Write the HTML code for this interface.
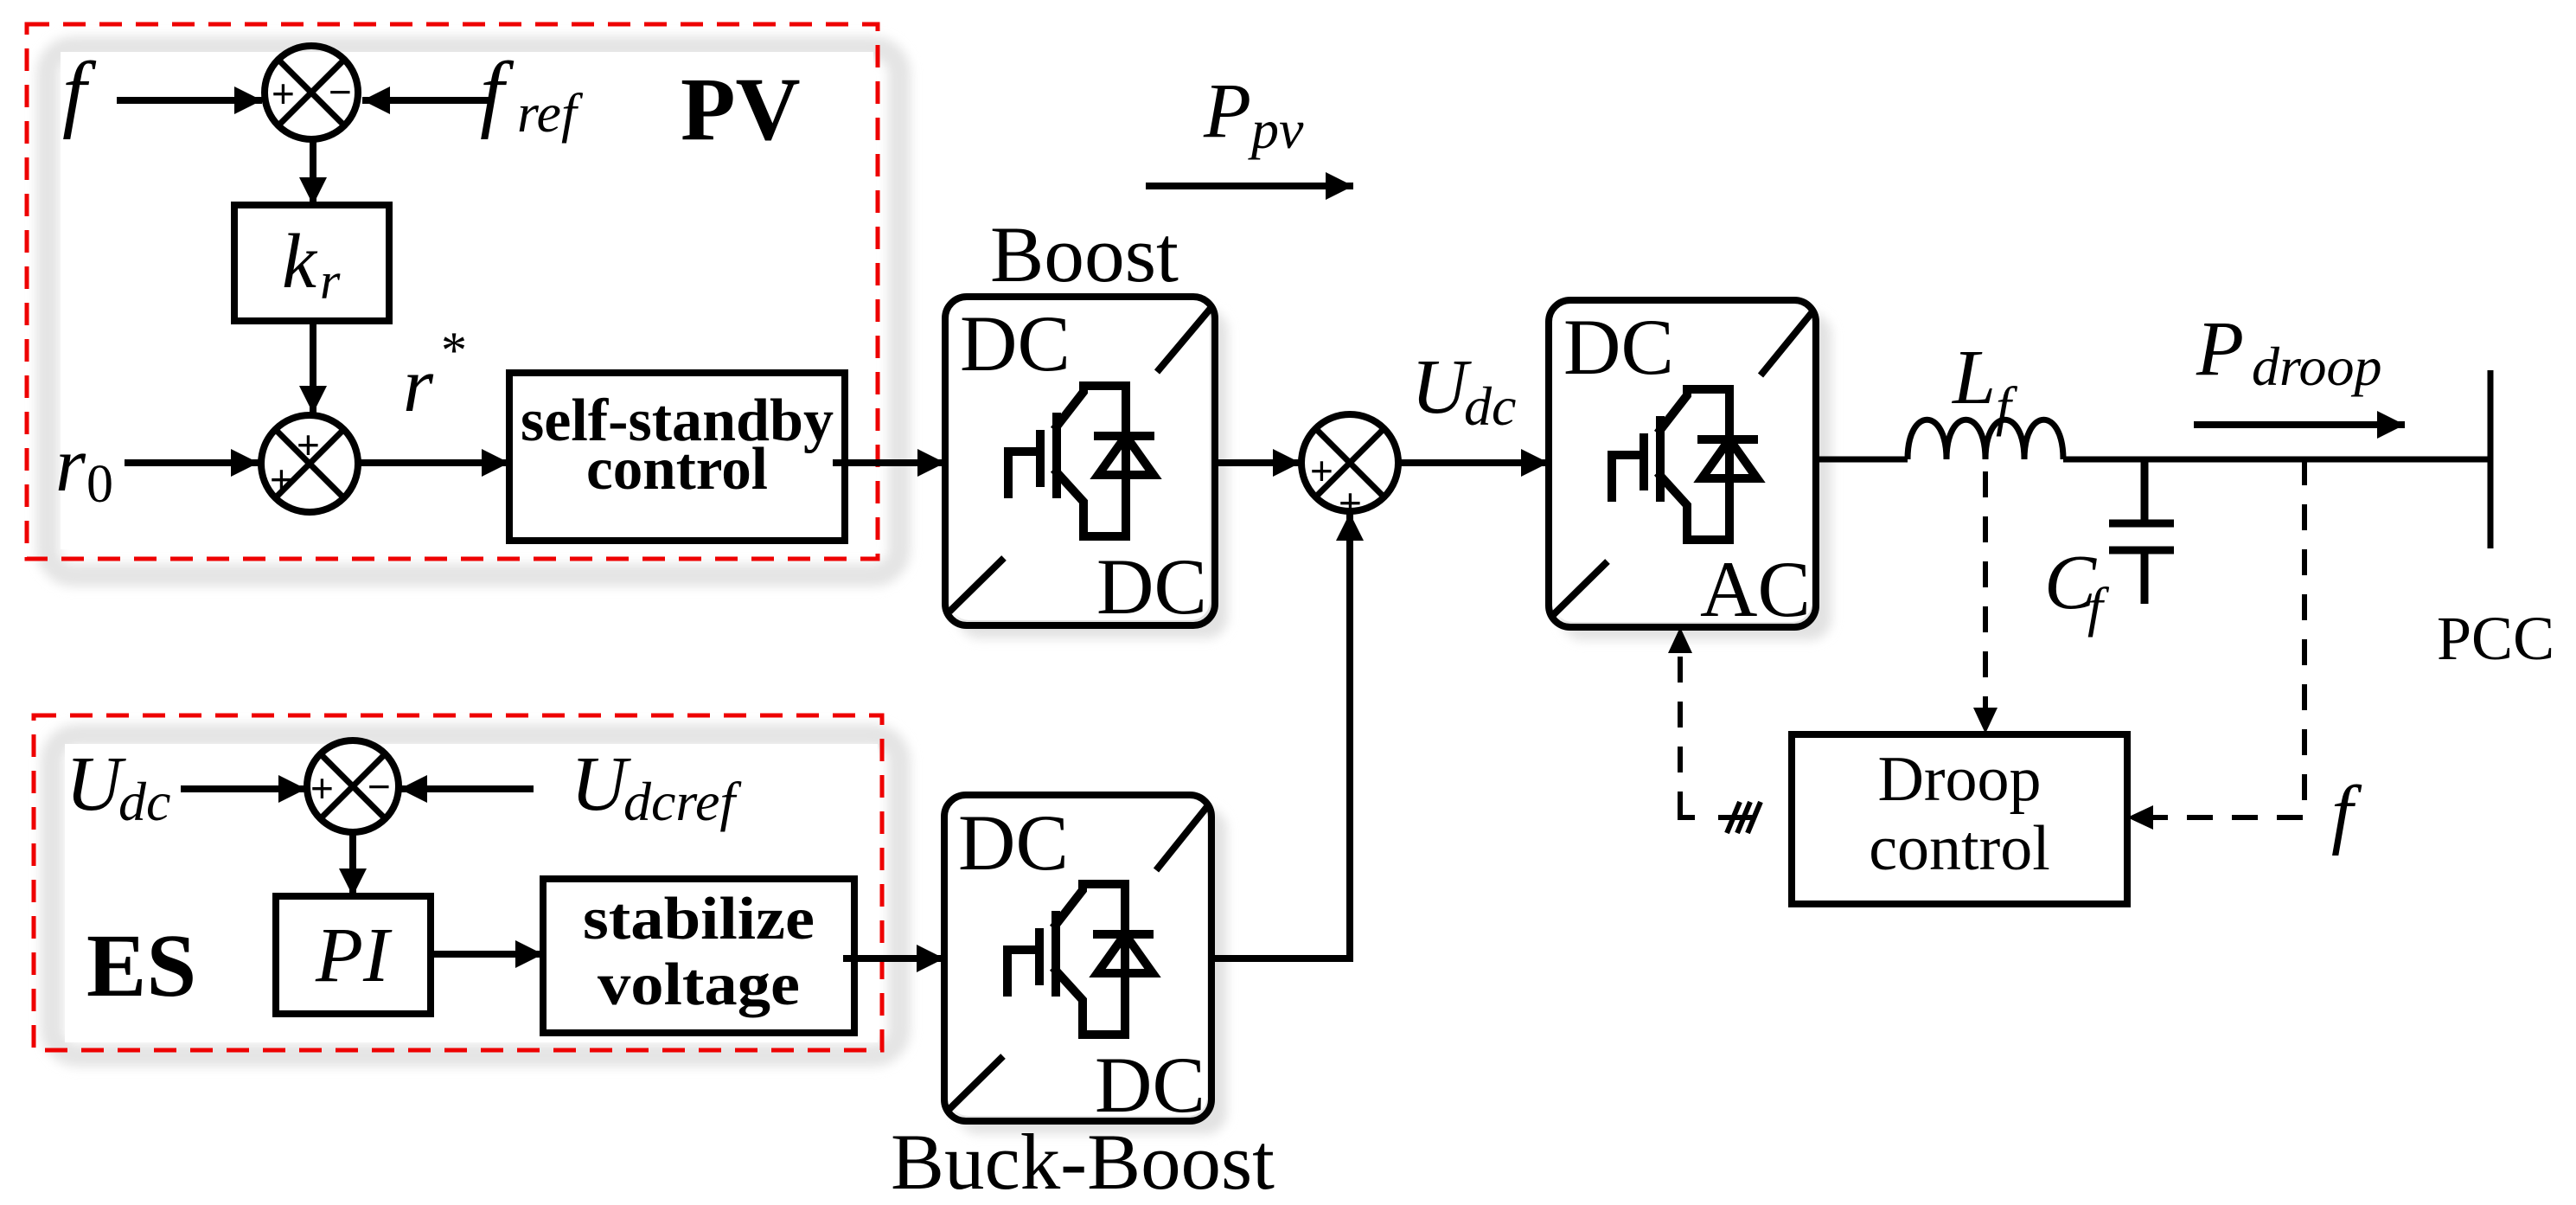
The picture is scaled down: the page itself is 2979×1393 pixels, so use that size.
<!DOCTYPE html>
<html><head><meta charset="utf-8"><style>
html,body{margin:0;padding:0;background:#fff;}
svg{display:block;}
svg text{font-family:"Liberation Serif","Times New Roman",Times,serif;fill:#000;}
svg text.sg{font-family:"Liberation Sans",Arial,sans-serif;}
</style></head><body>
<svg width="2979" height="1393" viewBox="0 0 2979 1393" xmlns="http://www.w3.org/2000/svg" font-family="Liberation Serif, serif">
<defs>
<filter id="blur" x="-20%" y="-20%" width="140%" height="140%"><feGaussianBlur stdDeviation="6"/></filter>
<marker id="ah" markerUnits="userSpaceOnUse" markerWidth="40" markerHeight="40" refX="32" refY="16" orient="auto"><path d="M0,0 L32,16 L0,32 Z" fill="#000"/></marker>
<g id="igbt" fill="none" stroke="#000" stroke-width="10" stroke-linecap="square">
<path d="M73,228 V179 H110"/>
<path d="M110,159 V215"/>
<path d="M129,139 V228"/>
<path d="M129,150 L160,110 V103 H209 V277 H160 V237 L129,203"/>
<path d="M177,161 H237"/>
<path d="M209,161 L177,206 H241 Z"/>
</g>
</defs>

<g filter="url(#blur)" fill="none" stroke="#e4e4e4">
<rect x="55" y="55" width="985" height="610" rx="30" stroke-width="26"/>
<rect x="60" y="850" width="980" height="370" rx="30" stroke-width="26"/>
</g>
<g filter="url(#blur)" fill="#e2e2e2">
<rect x="1108" y="358" width="312" height="380" rx="25"/>
<rect x="1806" y="362" width="312" height="378" rx="25"/>
<rect x="1107" y="934" width="312" height="377" rx="25"/>
</g>
<rect x="1099" y="349" width="300" height="368" rx="22" fill="#fff"/>
<rect x="1797" y="353" width="298" height="366" rx="22" fill="#fff"/>
<rect x="1098" y="925" width="298" height="365" rx="22" fill="#fff"/>
<rect x="70" y="60" width="940" height="575" fill="#fff"/>
<rect x="75" y="860" width="940" height="345" fill="#fff"/>

<g fill="none" stroke="#ee0000" stroke-width="5" stroke-dasharray="26,16">
<rect x="31" y="28" width="984" height="618"/>
<rect x="39" y="827" width="981" height="387"/>
</g>

<g fill="none" stroke="#000" stroke-width="8">
<rect x="1093" y="343" width="312" height="380" rx="25"/>
<rect x="1791" y="347" width="309" height="378" rx="25"/>
<rect x="1092" y="919" width="309" height="377" rx="25"/>
<path d="M1338,430 L1402,354 M1161,645 L1098,707"/>
<path d="M2036,434 L2098,358 M1859,649 L1796,711"/>
<path d="M1337,1006 L1398,930 M1160,1221 L1097,1283"/>
<circle cx="360" cy="107" r="54"/>
<circle cx="358" cy="536" r="56"/>
<circle cx="1561" cy="535" r="56"/>
<circle cx="408" cy="909" r="53"/>
<rect x="271" y="237" width="179" height="134"/>
<rect x="589" y="431" width="388" height="194"/>
<rect x="319" y="1036" width="179" height="136"/>
<rect x="628" y="1016" width="360" height="178"/>
<rect x="2072" y="849" width="388" height="196"/>
</g>
<g stroke="#000" stroke-width="7">
<path d="M322,69 L398,145 M398,69 L322,145"/>
<path d="M318,496 L398,576 M398,496 L318,576"/>
<path d="M1521,495 L1601,575 M1601,495 L1521,575"/>
<path d="M370,871 L446,947 M446,871 L370,947"/>
</g>
<g font-size="46">
<text class="sg" x="314" y="124">+</text><text class="sg" x="380" y="122">−</text>
<text class="sg" x="343" y="530">+</text><text class="sg" x="312" y="570">+</text>
<text class="sg" x="1515" y="560">+</text><text class="sg" x="1548" y="597">+</text>
<text class="sg" x="359" y="927">+</text><text class="sg" x="425" y="925">−</text>
</g>

<use href="#igbt" x="1093" y="343"/>
<use href="#igbt" x="1791" y="347"/>
<use href="#igbt" x="1092" y="919"/>

<g stroke="#000" stroke-width="8" fill="none" marker-end="url(#ah)">
<path d="M135,116 H303"/>
<path d="M570,116 H419"/>
<path d="M362,161 V237"/>
<path d="M362,371 V478"/>
<path d="M144,535 H299"/>
<path d="M414,535 H589"/>
<path d="M963,535 H1093"/>
<path d="M1325,215 H1565"/>
<path d="M1405,535 H1504"/>
<path d="M1618,535 H1791"/>
<path d="M1401,1108 H1561 V593"/>
<path d="M209,912 H354"/>
<path d="M617,912 H462"/>
<path d="M408,962 V1036"/>
<path d="M498,1103 H628"/>
<path d="M975,1108 H1092"/>
<path d="M2537,491 H2781"/>
</g>

<g stroke="#000" stroke-width="7" fill="none">
<path d="M2100,531 H2206"/>
<path d="M2206,531 C2206,470 2251,470 2251,531 C2251,470 2296,470 2296,531 C2296,470 2341,470 2341,531 C2341,470 2386,470 2386,531"/>
<path d="M2386,531 H2880"/>
<path d="M2880,428 V634"/>
<path d="M2480,531 V605 M2439,605 H2514 M2439,636 H2514 M2480,636 V698" stroke-width="9"/>
</g>
<g stroke="#000" stroke-width="6" fill="none" stroke-dasharray="30,22">
<path d="M2296,545 V820"/>
<path d="M2665,531 V945 H2490"/>
<path d="M1943,945 V755"/>
</g>
<g fill="#000">
<path d="M2282,818 L2310,818 L2296,848 Z"/>
<path d="M2490,931 L2490,959 L2460,945 Z"/>
<path d="M1929,755 L1957,755 L1943,725 Z"/>
</g>
<g stroke="#000" stroke-width="6" fill="none">
<path d="M1943,920 V945 H1960"/>
<path d="M1987,945 H2027"/>
<path d="M1997,963 L2012,927 M2009,963 L2024,927 M2021,963 L2036,927"/>
</g>

<g font-style="italic">
<text x="72" y="140" font-size="100">f</text>
<text x="555" y="140" font-size="100">f</text><text x="598" y="152" font-size="64">ref</text>
<text x="326" y="332" font-size="90">k</text><text x="370" y="345" font-size="60">r</text>
<text x="466" y="475" font-size="90">r</text><text x="510" y="425" font-size="60" font-style="normal">*</text>
<text x="64" y="567" font-size="90">r</text><text x="100" y="580" font-size="62" font-style="normal">0</text>
<text x="1392" y="158" font-size="90">P</text><text x="1447" y="171" font-size="64">pv</text>
<text x="1632" y="477" font-size="90">U</text><text x="1693" y="491" font-size="64">dc</text>
<text x="2258" y="466" font-size="90">L</text><text x="2308" y="491" font-size="64">f</text>
<text x="2364" y="703" font-size="90">C</text><text x="2414" y="723" font-size="64">f</text>
<text x="2540" y="433" font-size="90">P</text><text x="2604" y="445" font-size="64">droop</text>
<text x="2696" y="970" font-size="90">f</text>
<text x="76" y="936" font-size="90">U</text><text x="137" y="948" font-size="64">dc</text>
<text x="660" y="936" font-size="90">U</text><text x="721" y="948" font-size="64">dcref</text>
<text x="365" y="1134" font-size="90">PI</text>
</g>
<text x="787" y="161" font-size="104" font-weight="bold">PV</text>
<text x="100" y="1151" font-size="104" font-weight="bold">ES</text>
<g font-weight="bold" font-size="70" text-anchor="middle">
<text x="783" y="509" textLength="362" lengthAdjust="spacingAndGlyphs">self-standby</text>
<text x="783" y="565" textLength="210" lengthAdjust="spacingAndGlyphs">control</text>
<text x="808" y="1085" textLength="268" lengthAdjust="spacingAndGlyphs">stabilize</text>
<text x="808" y="1161" textLength="234" lengthAdjust="spacingAndGlyphs">voltage</text>
</g>
<g font-size="92">
<text x="1145" y="325" textLength="218" lengthAdjust="spacingAndGlyphs">Boost</text>
<text x="1110" y="428">DC</text><text x="1268" y="709">DC</text>
<text x="1808" y="432">DC</text><text x="1966" y="712">AC</text>
<text x="1108" y="1005">DC</text><text x="1266" y="1285">DC</text>
<text x="1030" y="1374" textLength="444" lengthAdjust="spacingAndGlyphs">Buck-Boost</text>
</g>
<g font-size="74" text-anchor="middle">
<text x="2266" y="925">Droop</text>
<text x="2266" y="1005">control</text>
</g>
<text x="2818" y="762" font-size="72">PCC</text>
</svg>
</body></html>
